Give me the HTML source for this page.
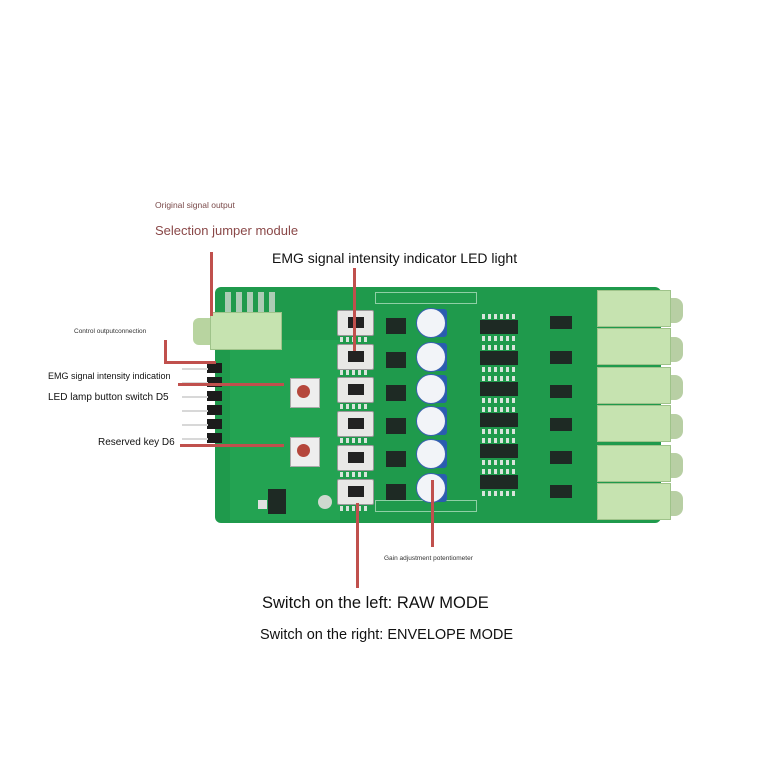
<!DOCTYPE html>
<html><head><meta charset="utf-8"><style>
html,body{margin:0;padding:0;background:#fff;}
body{width:768px;height:768px;position:relative;overflow:hidden;font-family:"Liberation Sans",sans-serif;}
.a{position:absolute;}
.t{position:absolute;white-space:nowrap;}
.r{position:absolute;background:#c0504d;}
.sw{position:absolute;left:337px;width:35px;height:24px;background:#e8e8e6;border:1px solid #999;border-radius:2px;}
.sw i{position:absolute;left:10px;top:6px;width:16px;height:11px;background:#222;}
.pot{position:absolute;left:416px;width:30px;height:30px;}
.pot b{position:absolute;left:14px;top:1px;width:17px;height:28px;background:#2a5db0;border-radius:0 3px 3px 0;}
.pot s{position:absolute;left:0;top:0;width:28px;height:28px;border-radius:50%;background:#f2f4f8;border:1px solid #3a62b0;}
.ic{position:absolute;background:#1e2a24;}
.jk{position:absolute;left:597px;width:72px;height:35px;background:#c6e3b0;border:1px solid #9fc38a;}
.bp{position:absolute;left:668px;width:15px;height:25px;background:#b8cfa4;border-radius:0 8px 8px 0;}
.pin{position:absolute;left:207px;width:15px;height:10px;background:#1c1c1c;}
.pl{position:absolute;left:182px;width:26px;height:2px;background:#d8d8d8;}
.pad{position:absolute;height:5px;background:repeating-linear-gradient(90deg,#d9e4dc 0 3px,transparent 3px 6px);}
</style></head><body>
<!-- board -->
<div class="a" style="left:215px;top:287px;width:446px;height:236px;background:#1f9a4c;border-radius:6px;"></div>
<div class="a" style="left:230px;top:340px;width:110px;height:180px;background:#23a352;"></div>
<!-- top-left pin header holes -->
<div class="a" style="left:225px;top:292px;width:55px;height:22px;background:repeating-linear-gradient(90deg,#cfd8cf 0 6px,#1f9a4c 6px 11px);opacity:.8"></div>
<!-- pads texture -->
<div class="pad" style="left:482px;top:314px;width:34px"></div><div class="pad" style="left:482px;top:336px;width:34px"></div>
<div class="pad" style="left:482px;top:345px;width:34px"></div><div class="pad" style="left:482px;top:367px;width:34px"></div>
<div class="pad" style="left:482px;top:376px;width:34px"></div><div class="pad" style="left:482px;top:398px;width:34px"></div>
<div class="pad" style="left:482px;top:407px;width:34px"></div><div class="pad" style="left:482px;top:429px;width:34px"></div>
<div class="pad" style="left:482px;top:438px;width:34px"></div><div class="pad" style="left:482px;top:460px;width:34px"></div>
<div class="pad" style="left:482px;top:469px;width:34px"></div><div class="pad" style="left:482px;top:491px;width:34px"></div>
<div class="pad" style="left:340px;top:337px;width:30px"></div><div class="pad" style="left:340px;top:370px;width:30px"></div>
<div class="pad" style="left:340px;top:404px;width:30px"></div><div class="pad" style="left:340px;top:438px;width:30px"></div>
<div class="pad" style="left:340px;top:472px;width:30px"></div><div class="pad" style="left:340px;top:506px;width:30px"></div>
<div class="a" style="left:375px;top:292px;width:100px;height:10px;border:1px solid #8fcfa5;"></div>
<div class="a" style="left:375px;top:500px;width:100px;height:10px;border:1px solid #8fcfa5;"></div>
<!-- left jack -->
<div class="a" style="left:193px;top:318px;width:20px;height:27px;background:#b8d4a0;border-radius:6px 0 0 6px;"></div>
<div class="a" style="left:210px;top:312px;width:70px;height:36px;background:#c6e3b0;border:1px solid #9fc38a;"></div>
<!-- header pins -->
<div class="pin" style="top:363px"></div><div class="pin" style="top:377px"></div><div class="pin" style="top:391px"></div>
<div class="pin" style="top:405px"></div><div class="pin" style="top:419px"></div><div class="pin" style="top:433px"></div>
<div class="pl" style="top:368px"></div><div class="pl" style="top:382px"></div><div class="pl" style="top:396px"></div>
<div class="pl" style="top:410px"></div><div class="pl" style="top:424px"></div><div class="pl" style="top:438px"></div>
<!-- buttons -->
<div class="a" style="left:290px;top:378px;width:28px;height:28px;background:#eee;border:1px solid #aaa;"></div>
<div class="a" style="left:297px;top:385px;width:13px;height:13px;border-radius:50%;background:#b5473c;"></div>
<div class="a" style="left:290px;top:437px;width:28px;height:28px;background:#eee;border:1px solid #aaa;"></div>
<div class="a" style="left:297px;top:444px;width:13px;height:13px;border-radius:50%;background:#b5473c;"></div>
<!-- regulator -->
<div class="ic" style="left:268px;top:489px;width:18px;height:25px;"></div>
<div class="a" style="left:258px;top:500px;width:9px;height:9px;background:#e0e0e0;"></div>
<div class="a" style="left:318px;top:495px;width:14px;height:14px;border-radius:50%;background:#cfd9cf;"></div>
<!-- switches -->
<div class="sw" style="top:310px"><i></i></div><div class="sw" style="top:344px"><i></i></div><div class="sw" style="top:377px"><i></i></div>
<div class="sw" style="top:411px"><i></i></div><div class="sw" style="top:445px"><i></i></div><div class="sw" style="top:479px"><i></i></div>
<!-- pots -->
<div class="pot" style="top:308px"><b></b><s></s></div><div class="pot" style="top:342px"><b></b><s></s></div><div class="pot" style="top:374px"><b></b><s></s></div>
<div class="pot" style="top:406px"><b></b><s></s></div><div class="pot" style="top:439px"><b></b><s></s></div><div class="pot" style="top:473px"><b></b><s></s></div>
<!-- ICs -->
<div class="ic" style="left:386px;top:318px;width:20px;height:16px"></div><div class="ic" style="left:386px;top:352px;width:20px;height:16px"></div>
<div class="ic" style="left:386px;top:385px;width:20px;height:16px"></div><div class="ic" style="left:386px;top:418px;width:20px;height:16px"></div>
<div class="ic" style="left:386px;top:451px;width:20px;height:16px"></div><div class="ic" style="left:386px;top:484px;width:20px;height:16px"></div>
<div class="ic" style="left:480px;top:320px;width:38px;height:14px"></div><div class="ic" style="left:480px;top:351px;width:38px;height:14px"></div>
<div class="ic" style="left:480px;top:382px;width:38px;height:14px"></div><div class="ic" style="left:480px;top:413px;width:38px;height:14px"></div>
<div class="ic" style="left:480px;top:444px;width:38px;height:14px"></div><div class="ic" style="left:480px;top:475px;width:38px;height:14px"></div>
<div class="ic" style="left:550px;top:316px;width:22px;height:13px"></div><div class="ic" style="left:550px;top:351px;width:22px;height:13px"></div>
<div class="ic" style="left:550px;top:385px;width:22px;height:13px"></div><div class="ic" style="left:550px;top:418px;width:22px;height:13px"></div>
<div class="ic" style="left:550px;top:451px;width:22px;height:13px"></div><div class="ic" style="left:550px;top:485px;width:22px;height:13px"></div>
<!-- right jacks -->
<div class="bp" style="top:298px"></div><div class="bp" style="top:337px"></div><div class="bp" style="top:375px"></div>
<div class="bp" style="top:414px"></div><div class="bp" style="top:453px"></div><div class="bp" style="top:491px"></div>
<div class="jk" style="top:290px"></div><div class="jk" style="top:328px"></div><div class="jk" style="top:367px"></div>
<div class="jk" style="top:405px"></div><div class="jk" style="top:445px"></div><div class="jk" style="top:483px"></div>
<!-- red leader lines -->
<div class="r" style="left:210px;top:252px;width:3px;height:64px"></div>
<div class="r" style="left:353px;top:268px;width:3px;height:83px"></div>
<div class="r" style="left:164px;top:340px;width:3px;height:23px"></div>
<div class="r" style="left:164px;top:361px;width:52px;height:3px"></div>
<div class="r" style="left:178px;top:383px;width:106px;height:3px"></div>
<div class="r" style="left:180px;top:444px;width:104px;height:3px"></div>
<div class="r" style="left:356px;top:503px;width:3px;height:85px"></div>
<div class="r" style="left:431px;top:480px;width:3px;height:67px"></div>
<!-- text -->
<div class="t" style="left:155px;top:200px;font-size:8.5px;color:#7a4a4a;">Original signal output</div>
<div class="t" style="left:155px;top:223px;font-size:13px;color:#8a4848;">Selection jumper module</div>
<div class="t" style="left:272px;top:250px;font-size:14px;color:#111;">EMG signal intensity indicator LED light</div>
<div class="t" style="left:74px;top:328px;font-size:6.5px;color:#333;">Control outputconnection</div>
<div class="t" style="left:48px;top:371px;font-size:9px;color:#111;">EMG signal intensity indication</div>
<div class="t" style="left:48px;top:392px;font-size:10px;color:#111;">LED lamp button switch D5</div>
<div class="t" style="left:98px;top:437px;font-size:10px;color:#111;">Reserved key D6</div>
<div class="t" style="left:384px;top:555px;font-size:6.5px;color:#333;">Gain adjustment potentiometer</div>
<div class="t" style="left:262px;top:594px;font-size:16.5px;color:#111;">Switch on the left: RAW MODE</div>
<div class="t" style="left:260px;top:627px;font-size:14.5px;color:#111;">Switch on the right: ENVELOPE MODE</div>
</body></html>
